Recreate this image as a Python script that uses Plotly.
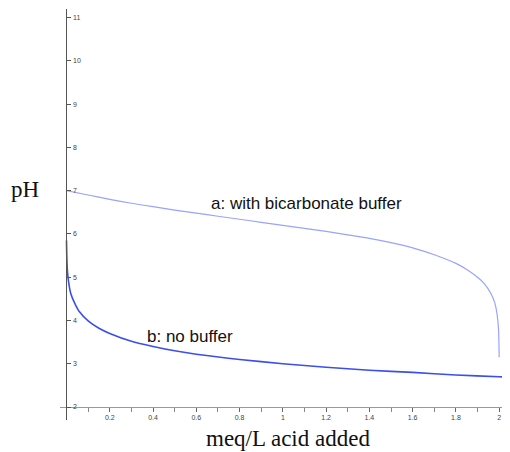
import plotly.graph_objects as go

# Curve a: with bicarbonate buffer
acid_a = [0, 0.1, 0.2, 0.3, 0.4, 0.5, 0.6, 0.7, 0.8, 0.9, 1.0, 1.1, 1.2, 1.3, 1.4,
          1.5, 1.6, 1.7, 1.8, 1.85, 1.9, 1.93, 1.96, 1.98, 1.99, 1.997, 2.0]
ph_a = [7.0, 6.9, 6.8, 6.71, 6.63, 6.55, 6.48, 6.41, 6.34, 6.27, 6.2, 6.13, 6.06, 5.98, 5.9,
        5.8, 5.68, 5.52, 5.32, 5.18, 5.0, 4.86, 4.64, 4.4, 4.15, 3.8, 3.15]

# Curve b: no buffer
acid_b = [0, 0.002, 0.005, 0.01, 0.02, 0.04, 0.06, 0.1, 0.15, 0.2, 0.3, 0.4, 0.5, 0.6,
          0.8, 1.0, 1.2, 1.4, 1.6, 1.8, 2.0, 2.05]
ph_b = [5.85, 5.4, 5.1, 4.88, 4.62, 4.38, 4.2, 3.99, 3.82, 3.7, 3.52, 3.4, 3.3, 3.22,
        3.1, 3.0, 2.92, 2.85, 2.8, 2.74, 2.7, 2.69]

x_ticks = [0.2, 0.4, 0.6, 0.8, 1.0, 1.2, 1.4, 1.6, 1.8, 2.0]
x_tick_text = ["0.2", "0.4", "0.6", "0.8", "1", "1.2", "1.4", "1.6", "1.8", "2"]
y_ticks = [2, 3, 4, 5, 6, 7, 8, 9, 10, 11]

label_a = "a: with bicarbonate buffer"
label_b = "b: no buffer"

xr = [-0.03, 2.05]
yr = [1.7, 11.2]

fig = go.Figure()
fig.add_trace(go.Scatter(x=acid_a, y=ph_a, mode="lines",
                         line=dict(color="#99a3ff", width=1.2, shape="spline", smoothing=0.6),
                         hoverinfo="skip"))
fig.add_trace(go.Scatter(x=acid_b, y=ph_b, mode="lines",
                         line=dict(color="#3b4ef0", width=1.6, shape="spline", smoothing=0.6),
                         hoverinfo="skip"))

fig.add_annotation(x=1.11, y=6.71, text=label_a, showarrow=False,
                   font=dict(family="Liberation Sans, Arial", size=17, color="#111111"))
fig.add_annotation(x=0.569, y=3.62, text=label_b, showarrow=False,
                   font=dict(family="Liberation Sans, Arial", size=17, color="#111111"))
fig.add_annotation(xref="paper", yref="paper", x=-0.078, y=0.56, text="pH", showarrow=False,
                   xanchor="center", yanchor="middle",
                   font=dict(family="Liberation Serif, Times New Roman", size=23, color="#111111"))
fig.add_annotation(xref="paper", yref="paper", x=0.506, y=-0.046, text="meq/L acid added",
                   showarrow=False, xanchor="center", yanchor="middle",
                   font=dict(family="Liberation Serif, Times New Roman", size=23, color="#111111"))

ypos_x = (0 - xr[0]) / (xr[1] - xr[0])
xpos_y = (2 - yr[0]) / (yr[1] - yr[0])

fig.update_layout(
    width=502, height=444,
    margin=dict(l=52, r=0, t=1, b=32),
    paper_bgcolor="white", plot_bgcolor="white",
    showlegend=False,
    xaxis=dict(range=xr, anchor="free", position=xpos_y, showgrid=False, zeroline=False,
               showline=True, linecolor="#999999", linewidth=1,
               tickmode="array", tickvals=x_ticks, ticktext=x_tick_text,
               ticks="outside", ticklen=4, tickcolor="#666666", tickwidth=1,
               tickfont=dict(family="Liberation Sans, Arial", size=7, color="#444444"),
               minor=dict(dtick=0.1, tick0=0, ticks="outside", ticklen=4, tickcolor="#888888"),
               fixedrange=True),
    yaxis=dict(range=yr, anchor="free", position=ypos_x, showgrid=False, zeroline=False,
               showline=True, linecolor="#555555", linewidth=1,
               tickmode="array", tickvals=y_ticks,
               ticks="inside", ticklen=4, tickcolor="#555555", tickwidth=1,
               ticklabelposition="inside",
               tickfont=dict(family="Liberation Sans, Arial", size=7, color="#444444"),
               fixedrange=True),
)

fig.write_html("out.html")
